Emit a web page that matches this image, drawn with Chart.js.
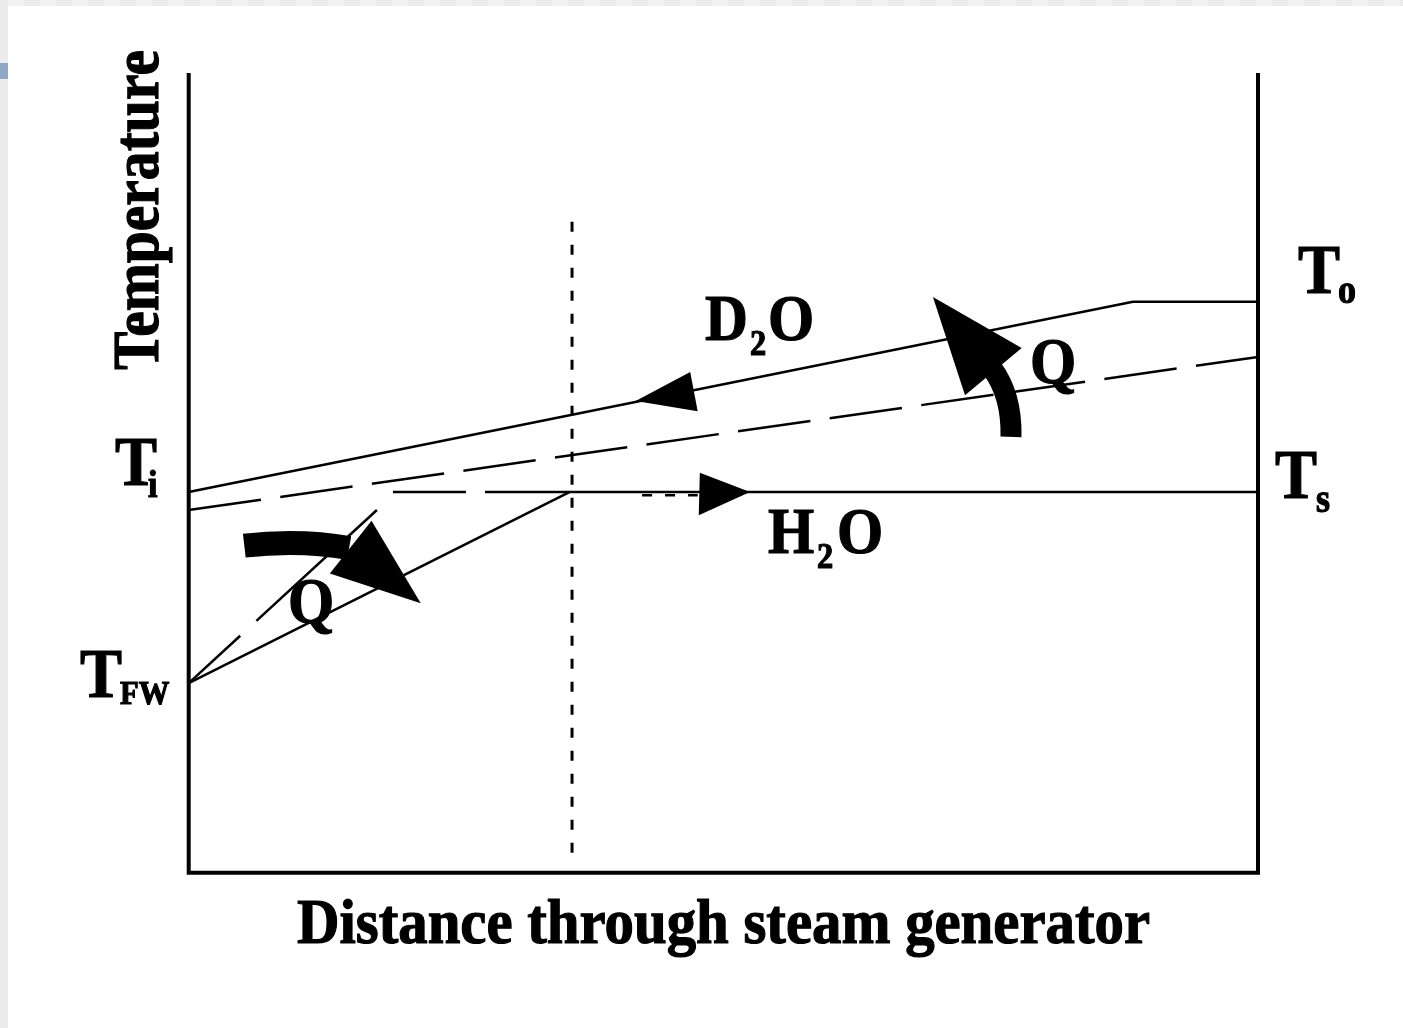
<!DOCTYPE html>
<html lang="en">
<head>
<meta charset="UTF-8">
<title>Steam generator temperature profile</title>
<script src="https://cdn.jsdelivr.net/npm/chart.js"></script>
<style>
  html, body { margin: 0; padding: 0; background: #fff; }
  body { width: 1403px; height: 1028px; position: relative; overflow: hidden; }
  .strip-top { position: absolute; left: 0; top: 0; width: 1403px; height: 6px;
    background: repeating-linear-gradient(90deg, #f3f3f3 0 16px, #ebebeb 16px 32px);
    background-position: 8px 0; }
  .strip-left { position: absolute; left: 0; top: 0; width: 8px; height: 1028px; background: #ebebeb; }
  .strip-mark { position: absolute; left: 0; top: 63px; width: 8px; height: 16px; background: #8fa9c4; }
  #chart { position: absolute; left: 0; top: 0; }
</style>
</head>
<body>
<div class="strip-top"></div>
<div class="strip-left"></div>
<div class="strip-mark"></div>
<canvas id="chart" width="1403" height="1028"></canvas>

<script>
// distance through the generator (0..100) and temperature (0..100, arbitrary units)
const d2oX = [0, 88.3, 100];
const d2oT = [47.6, 71.4, 71.4];          // primary D2O, Ti -> To
const wallX = [0, 100];
const wallT = [45.35, 64.5];              // dashed tube line
const h2oX = [0, 35.6];
const h2oT = [23.7, 47.6];                // feedwater preheat, TFW -> Ts
const satX = [19.1, 100];
const satT = [47.6, 47.6];                // Ts
const preX = [0, 17.6];
const preT = [23.7, 45.35];               // steep dashed line from TFW
const dotX = [42.4, 47.6];
const dotT = [47.2, 47.2];
const boundX = [35.85, 35.85];
const boundT = [81.4, 1.6];               // end of preheat zone
const frameX = [0, 0, 100, 100];
const frameT = [100, 0, 0, 100];

const pts = (xs, ys) => xs.map((v, i) => ({ x: v, y: ys[i] }));

function line(data, width, dash) {
  return {
    data, showLine: true, borderColor: '#000', backgroundColor: '#000',
    borderWidth: width, borderDash: dash || [], pointRadius: 0, clip: false,
    borderCapStyle: 'butt', borderJoinStyle: 'miter'
  };
}

// arrow heads (data units)
const heads = [
  [[41.8, 59.0], [46.9, 62.6], [47.6, 57.7]],   // D2O flow
  [[52.5, 47.6], [47.8, 50.0], [47.7, 44.7]]    // H2O flow
];
// heat flow arrows: shaft start, control, end, head tip, head corners
const heat = [
  { w: 21, s: [[76.9, 54.5], [77.0, 59.7], [75.1, 63.1]], h: [[69.6, 72.0], [72.6, 59.7], [77.9, 65.6]] },
  { w: 24, s: [[5.2, 40.9], [10.4, 41.7], [15.0, 40.6]], h: [[21.7, 33.7], [17.1, 44.0], [13.2, 37.4]] }
];
// text pieces: text, u, v, size
const labels = [
  ['T', -6.89, 48.48, 70], ['i', -3.81, 46.98, 38],
  ['T', -10.17, 21.97, 70], ['FW', -6.42, 21.10, 34],
  ['T', 103.74, 72.49, 70], ['o', 107.48, 71.24, 40],
  ['T', 101.59, 46.86, 70], ['s', 105.42, 45.11, 40],
  ['D', 48.28, 66.61, 66], ['2', 52.49, 64.74, 36], ['O', 54.18, 66.61, 66],
  ['H', 54.18, 40.0, 66], ['2', 58.76, 38.12, 36], ['O', 60.63, 40.0, 66],
  ['Q', 78.68, 61.24, 66], ['Q', 9.29, 31.22, 66]
];

const FONT = '"Liberation Serif", "Times New Roman", serif';

function put(ctx, str, x, y, size, sx) {
  ctx.font = 'bold ' + size + 'px ' + FONT;
  ctx.save();
  ctx.translate(x, y);
  ctx.scale(sx, 1);
  ctx.lineWidth = 1.2;
  ctx.fillText(str, 0, 0);
  ctx.strokeText(str, 0, 0);
  ctx.restore();
}

function fit(ctx, str, size, w) {
  ctx.font = 'bold ' + size + 'px ' + FONT;
  return w / ctx.measureText(str).width;
}

const annotate = {
  id: 'annotate',
  afterDatasetsDraw(chart) {
    const { ctx, chartArea: a, scales: { x, y } } = chart;
    const px = u => x.getPixelForValue(u);
    const py = v => y.getPixelForValue(v);
    const tri = t => {
      ctx.beginPath();
      t.forEach(([u, v], i) => i ? ctx.lineTo(px(u), py(v)) : ctx.moveTo(px(u), py(v)));
      ctx.closePath();
      ctx.fill();
    };
    ctx.save();
    ctx.fillStyle = '#000';
    ctx.strokeStyle = '#000';
    heads.forEach(tri);
    heat.forEach(h => {
      const [p0, c, p1] = h.s;
      ctx.lineWidth = h.w;
      ctx.lineCap = 'butt';
      ctx.beginPath();
      ctx.moveTo(px(p0[0]), py(p0[1]));
      ctx.quadraticCurveTo(px(c[0]), py(c[1]), px(p1[0]), py(p1[1]));
      ctx.stroke();
      tri(h.h);
    });

    ctx.textBaseline = 'alphabetic';
    ctx.textAlign = 'left';
    labels.forEach(([t, u, v, s]) => put(ctx, t, px(u), py(v), s, 0.9));

    // axis titles
    const xt = 'Distance through steam generator';
    put(ctx, xt, 297, a.bottom + 70, 63, fit(ctx, xt, 63, 853));
    const yt = 'Temperature';
    ctx.save();
    ctx.translate(a.left - 31, a.top + 297);
    ctx.rotate(-Math.PI / 2);
    put(ctx, yt, 0, 0, 66, fit(ctx, yt, 66, 320));
    ctx.restore();
    ctx.restore();
  }
};

new Chart(document.getElementById('chart'), {
  type: 'scatter',
  data: {
    datasets: [
      line(pts(frameX, frameT), 4),
      line(pts(boundX, boundT), 3, [10, 13]),
      line(pts(d2oX, d2oT), 2.5),
      line(pts(wallX, wallT), 2.5, [73, 19.5]),
      line(pts(h2oX, h2oT), 2.5),
      line(pts(satX, satT), 2.5, [73, 19, 2000, 0]),
      line(pts(preX, preT), 2.5, [70, 22, 200, 0]),
      line(pts(dotX, dotT), 2.5, [10, 13])
    ]
  },
  options: {
    responsive: false,
    animation: false,
    layout: { padding: { left: 188.7, right: 145, top: 73, bottom: 155.3 } },
    scales: {
      x: { type: 'linear', min: 0, max: 100, display: false },
      y: { type: 'linear', min: 0, max: 100, display: false }
    },
    plugins: { legend: { display: false }, tooltip: { enabled: false } }
  },
  plugins: [annotate]
});
</script>
</body>
</html>
